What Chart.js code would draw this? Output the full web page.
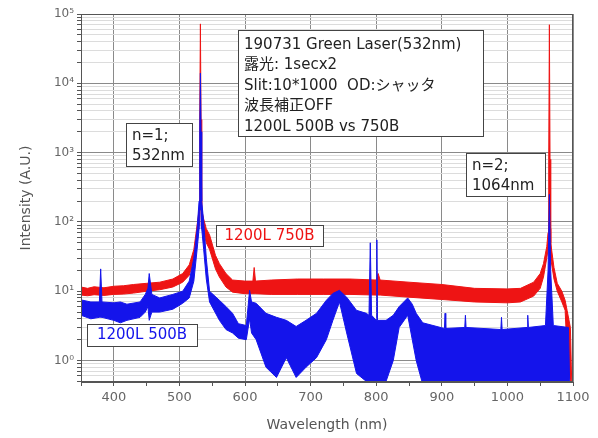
<!DOCTYPE html>
<html>
<head>
<meta charset="utf-8">
<script src="https://cdn.jsdelivr.net/npm/chart.js@4.4.1/dist/chart.umd.min.js"></script>
<style>
  html, body { margin: 0; padding: 0; background: #fff; }
  #wrap { width: 598px; height: 438px; position: relative; }
</style>
</head>
<body>
<div id="wrap"><canvas id="spec"></canvas></div>
<script>
// 1200L 750B (red): wavelength, upper and lower edge of the noisy band
const wl750 = [350, 360, 370, 385, 400, 415, 430, 450, 470, 490,
  505, 515, 522, 527, 530, 531, 532, 533, 534, 537,
  541, 546, 555, 561, 571, 581, 600, 612, 614, 616,
  640, 680, 720, 760, 800, 803, 806, 850, 900, 950,
  1000, 1020, 1040, 1050, 1055, 1060, 1062, 1063, 1064, 1065,
  1066, 1071, 1076, 1083, 1088, 1091, 1096, 1098];
const hi750 = [11.5, 11.0, 11.6, 11.2, 11.8, 12.0, 12.5, 13.0, 13.5, 15.0,
  18, 24, 40, 90, 150, 3000, 72000, 3000, 150, 110,
  80, 65, 33, 25, 18, 14.5, 14, 14, 22, 14,
  14.5, 15, 15, 15, 14.5, 18, 14.5, 13.5, 12.5, 11,
  10.8, 11, 13.5, 18, 25, 44, 70, 800, 70000, 800,
  50, 22, 13, 10, 7.4, 5.3, 3, 0.5];
const lo750 = [8.8, 8.6, 8.9, 8.7, 9.0, 9.1, 9.4, 10.0, 10.5, 11.5,
  13.5, 17, 28, 60, 90, 150, 150, 150, 90, 70,
  50, 40, 21, 16, 11.5, 9.7, 9.2, 9.2, 9.2, 9.2,
  9.0, 9.0, 9.0, 9.0, 8.8, 8.8, 8.8, 8.2, 7.6, 7.0,
  6.8, 7.0, 8.5, 11, 16, 30, 40, 80, 150, 80,
  30, 15, 10, 7, 5.3, 1.3, 0.5, 0.45];

// 1200L 500B (blue)
const wl500 = [350, 365, 378, 380, 382, 400, 410, 420, 440, 448,
  452, 454, 458, 470, 490, 505, 515, 522, 527, 530,
  531, 532, 533, 534, 537, 541, 546, 561, 571, 581,
  590, 602, 607, 610, 617, 632, 648, 663, 678, 693,
  709, 724, 734, 744, 755, 770, 785, 789, 791, 793,
  800, 801, 802, 815, 826, 835, 848, 855, 861, 871,
  904, 905, 906, 935, 936, 937, 990, 991, 992, 1030,
  1031, 1032, 1058, 1062, 1064, 1066, 1070, 1093, 1095];
const hi500 = [7.5, 7.0, 7.0, 21, 7.0, 6.8, 7.0, 6.5, 7.0, 9.0,
  11, 18, 9, 8, 9, 10, 14, 30, 80, 200,
  2000, 14000, 2000, 200, 100, 30, 10, 7.4, 6, 4.8,
  3.4, 3.2, 10.3, 7, 6.7, 4.8, 4.2, 3.8, 3.1, 3.8,
  4.8, 7.4, 9.3, 10.3, 8.2, 5.3, 4.8, 4.5, 50, 4.5,
  3.8, 55, 3.8, 3.8, 4.5, 6, 8, 6.5, 4.8, 3.5,
  2.9, 4.8, 2.9, 3.0, 4.5, 3.0, 2.8, 4.2, 2.8, 3.0,
  4.5, 3.0, 3.2, 20, 250, 20, 3.2, 3.0, 0.45];
const lo500 = [4.5, 4.0, 4.2, 4.2, 4.2, 3.8, 3.5, 3.8, 4.2, 5.0,
  6, 3.8, 5, 5, 5.5, 6.7, 8, 14, 40, 80,
  150, 150, 150, 80, 40, 15, 7, 3.8, 2.8, 2.5,
  2.1, 2.0, 4, 2.5, 2.0, 0.8, 0.57, 1.1, 0.57, 0.8,
  1.1, 2.0, 3.8, 7, 2.5, 0.65, 0.5, 0.5, 0.5, 0.5,
  0.5, 0.5, 0.5, 0.5, 1.0, 3, 4.5, 2, 1.0, 0.45,
  0.45, 0.45, 0.45, 0.45, 0.45, 0.45, 0.45, 0.45, 0.45, 0.45,
  0.45, 0.45, 0.45, 0.45, 0.45, 0.45, 0.45, 0.45, 0.45];

const xTickVals = [350, 400, 450, 500, 550, 600, 650, 700, 750, 800, 850, 900, 950, 1000, 1050, 1100];
const decades = [-1, 0, 1, 2, 3, 4, 5];
const supDigits = ['⁰', '¹', '²', '³', '⁴', '⁵'];

const infoLines = [
  '190731 Green Laser(532nm)',
  '露光: 1secx2',
  'Slit:10*1000  OD:シャッタ',
  '波長補正OFF',
  '1200L 500B vs 750B'
];

const RED = 'rgb(238,20,20)';
const BLUE = 'rgb(20,20,235)';
const FONT = '"DejaVu Sans", "Noto Sans CJK JP", sans-serif';

const toPts = (xs, ys) => xs.map((x, i) => ({ x: x, y: ys[i] }));

const yTickVals = [];
decades.forEach(d => {
  for (let m = 1; m <= 9; m++) {
    const v = m * Math.pow(10, d);
    if (v >= 0.49 && v <= 100000) yTickVals.push(v);
  }
});

const isDecade = v => Math.abs(Math.log10(v) - Math.round(Math.log10(v))) < 1e-6;

const band = (label, pts, color, fill) => ({
  label: label,
  data: pts,
  borderColor: color,
  backgroundColor: color,
  borderWidth: 1,
  pointRadius: 0,
  tension: 0,
  fill: fill
});

// boxes and the frame round the plot
const annotations = {
  id: 'annotations',
  afterDraw(chart) {
    const c = chart.ctx;
    const a = chart.chartArea;
    c.save();
    c.strokeStyle = '#555';
    c.lineWidth = 1;
    c.strokeRect(a.left + 0.5, a.top + 0.5, a.right - a.left - 1, a.bottom - a.top - 1);

    const box = (x, y, w, h) => {
      c.fillStyle = '#fff';
      c.fillRect(x, y, w, h);
      c.strokeStyle = '#444';
      c.strokeRect(x + 0.5, y + 0.5, w, h);
    };

    c.textBaseline = 'middle';
    c.textAlign = 'left';

    box(238, 30, 245, 106);
    c.fillStyle = '#222';
    c.font = '15px ' + FONT;
    infoLines.forEach((t, i) => c.fillText(t, 244, 45 + i * 20.5));

    box(126, 123, 66, 43);
    c.fillStyle = '#222';
    c.fillText('n=1;', 132, 136);
    c.fillText('532nm', 132, 156);

    box(466, 153, 79, 43);
    c.fillStyle = '#222';
    c.fillText('n=2;', 472, 166);
    c.fillText('1064nm', 472, 186);

    c.textAlign = 'center';
    box(216, 225, 107, 21);
    c.fillStyle = RED;
    c.fillText('1200L 750B', 269.5, 236);

    box(87, 324, 110, 22);
    c.fillStyle = BLUE;
    c.fillText('1200L 500B', 142, 335.5);
    c.restore();
  }
};

new Chart(document.getElementById('spec').getContext('2d'), {
  type: 'line',
  data: {
    datasets: [
      band('1200L 500B', toPts(wl500, hi500), BLUE, '+1'),
      band('1200L 500B low', toPts(wl500, lo500), BLUE, false),
      band('1200L 750B', toPts(wl750, hi750), RED, '+1'),
      band('1200L 750B low', toPts(wl750, lo750), RED, false)
    ]
  },
  options: {
    responsive: true,
    maintainAspectRatio: false,
    animation: false,
    layout: { padding: { top: 14, right: 25, left: 0, bottom: 0 } },
    plugins: {
      legend: { display: false },
      tooltip: { enabled: false }
    },
    scales: {
      x: {
        type: 'linear',
        min: 350,
        max: 1100,
        afterBuildTicks: s => { s.ticks = xTickVals.map(v => ({ value: v })); },
        afterFit: s => { s.height = 56; },
        ticks: {
          autoSkip: false,
          maxRotation: 0,
          color: '#666',
          font: { family: FONT, size: 13 },
          padding: 4,
          callback: v => (v % 100 === 0 && v !== 350 ? String(v) : '')
        },
        grid: {
          color: c => (c.tick && c.tick.value % 100 === 0 ? '#8a8a8a' : 'rgba(0,0,0,0)'),
          tickColor: '#555',
          tickLength: 4
        },
        border: { color: '#555' },
        title: {
          display: true,
          text: 'Wavelength (nm)',
          color: '#555',
          font: { family: FONT, size: 14 },
          padding: { top: 2 }
        }
      },
      y: {
        type: 'logarithmic',
        min: 0.49,
        max: 100000,
        afterBuildTicks: s => { s.ticks = yTickVals.map(v => ({ value: v })); },
        afterFit: s => { s.width = 81; },
        ticks: {
          autoSkip: false,
          color: '#666',
          font: { family: FONT, size: 12 },
          padding: 3,
          callback: v => (isDecade(v) ? '10' + supDigits[Math.round(Math.log10(v))] : '')
        },
        grid: {
          color: c => (c.tick && isDecade(c.tick.value) ? '#8a8a8a' : '#dcdcdc'),
          tickColor: '#555',
          tickLength: 4
        },
        border: { color: '#555' },
        title: {
          display: true,
          text: 'Intensity (A.U.)',
          color: '#555',
          font: { family: FONT, size: 14 },
          padding: { top: 18, bottom: 0 }
        }
      }
    }
  },
  plugins: [annotations]
});
</script>
</body>
</html>
